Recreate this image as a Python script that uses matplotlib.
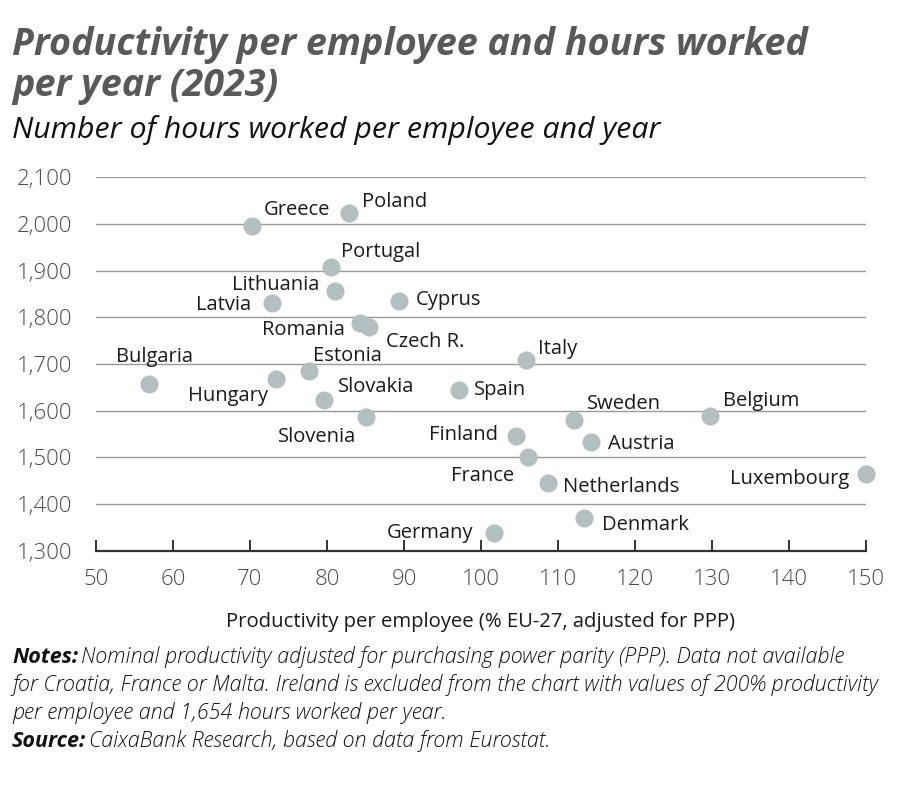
import matplotlib
matplotlib.use("Agg")
import matplotlib.pyplot as plt

# data
countries = ['Greece', 'Poland', 'Portugal', 'Lithuania', 'Latvia', 'Cyprus',
             'Romania', 'Czech R.', 'Estonia', 'Bulgaria', 'Hungary', 'Slovakia',
             'Slovenia', 'Italy', 'Spain', 'Sweden', 'Belgium', 'Finland',
             'Austria', 'France', 'Netherlands', 'Luxembourg', 'Denmark', 'Germany']
productivity = [70.2, 82.8, 80.5, 81.0, 72.9, 89.3,
                84.3, 85.4, 77.7, 56.9, 73.4, 79.6,
                85.1, 105.8, 97.1, 112.1, 129.7, 104.5,
                114.3, 106.1, 108.7, 150.0, 113.4, 101.7]
hours = [1995, 2023, 1907, 1857, 1830, 1835,
         1787, 1780, 1685, 1657, 1667, 1623,
         1586, 1708, 1644, 1580, 1589, 1546,
         1532, 1501, 1444, 1464, 1371, 1337]

x_ticks = [50, 60, 70, 80, 90, 100, 110, 120, 130, 140, 150]
y_ticks = [1300, 1400, 1500, 1600, 1700, 1800, 1900, 2000, 2100]

# label placement (pixel offset, horizontal alignment)
label_pos = {
    'Greece': (12, 16, 'left'), 'Poland': (13, 11, 'left'),
    'Portugal': (10, 15, 'left'), 'Lithuania': (-15, 6, 'right'),
    'Latvia': (-21, -2, 'right'), 'Cyprus': (17, 1, 'left'),
    'Romania': (-15, -7, 'right'), 'Czech R.': (17, -15, 'left'),
    'Estonia': (4, 15, 'left'), 'Bulgaria': (5, 27, 'center'),
    'Hungary': (-8, -17, 'right'), 'Slovakia': (14, 13, 'left'),
    'Slovenia': (-10, -20, 'right'), 'Italy': (12, 11, 'left'),
    'Spain': (15, 0, 'left'), 'Sweden': (13, 16, 'left'),
    'Belgium': (13, 15, 'left'), 'Finland': (-18, 1, 'right'),
    'Austria': (17, -2, 'left'), 'France': (-14, -19, 'right'),
    'Netherlands': (15, -4, 'left'), 'Luxembourg': (-17, -5, 'right'),
    'Denmark': (18, -7, 'left'), 'Germany': (-21, 0, 'right'),
}

plt.rcParams['font.family'] = ['Open Sans', 'DejaVu Sans']

W, H = 900, 785
fig = plt.figure(figsize=(W / 100, H / 100), dpi=100)
ax = fig.add_axes([96 / W, 1 - 550.7 / H, 770 / W, 373.4 / H])

ax.scatter(productivity, hours, s=170, color='#b4bfc2', zorder=3,
           linewidths=0, clip_on=False)

for name, x, y in zip(countries, productivity, hours):
    dx, dy, ha = label_pos[name]
    ax.annotate(name, (x, y), xytext=(dx, dy), textcoords='offset pixels',
                ha=ha, va='center', fontsize=14.5, color='#1a1a1a', zorder=4)

ax.set_xlim(50, 150)
ax.set_ylim(1300, 2100)
ax.set_xticks(x_ticks)
ax.set_yticks(y_ticks)
ax.set_yticklabels([f'{v:,}' for v in y_ticks])
for v in y_ticks[1:]:
    ax.axhline(v, color='#999999', lw=1, zorder=1)

for side in ['top', 'right', 'left']:
    ax.spines[side].set_visible(False)
ax.spines['bottom'].set_color('#333333')
ax.spines['bottom'].set_linewidth(1.6)
ax.tick_params(axis='x', direction='in', length=8, width=1.4, color='#333333',
               labelsize=16, labelcolor='#4a4a4a', pad=13)
ax.tick_params(axis='y', length=0, labelsize=16, labelcolor='#4a4a4a', pad=17)
for lab in ax.get_xticklabels() + ax.get_yticklabels():
    lab.set_fontweight('light')

ax.set_xlabel('Productivity per employee (% EU-27, adjusted for PPP)',
              fontsize=14.6, color='#1a1a1a', labelpad=16)

fig.text(12 / W, 1 - 55 / H, 'Productivity per employee and hours worked',
         fontsize=27.2, fontweight='bold', fontstyle='italic', color='#595959',
         va='baseline')
fig.text(12 / W, 1 - 96 / H, 'per year (2023)',
         fontsize=27.2, fontweight='bold', fontstyle='italic', color='#595959',
         va='baseline')
fig.text(12 / W, 1 - 138 / H, 'Number of hours worked per employee and year',
         fontsize=21.8, fontstyle='italic', color='#111111', va='baseline')


def note_line(y_px, head, body):
    x0 = 12 / W
    if head:
        t = fig.text(x0, 1 - y_px / H, head, fontsize=15.5, fontweight='bold',
                     fontstyle='italic', color='#111111', va='baseline')
        fig.canvas.draw()
        bb = t.get_window_extent()
        x0 = (bb.x1 + 3) / W
    fig.text(x0, 1 - y_px / H, body, fontsize=15.5, fontstyle='italic',
             fontweight='light', color='#111111', va='baseline')


note_line(663, 'Notes:',
          'Nominal productivity adjusted for purchasing power parity (PPP). Data not available')
note_line(691, None,
          'for Croatia, France or Malta. Ireland is excluded from the chart with values of 200% productivity')
note_line(719, None, 'per employee and 1,654 hours worked per year.')
note_line(747, 'Source:', 'CaixaBank Research, based on data from Eurostat.')

fig.savefig('out.png', dpi=100)
